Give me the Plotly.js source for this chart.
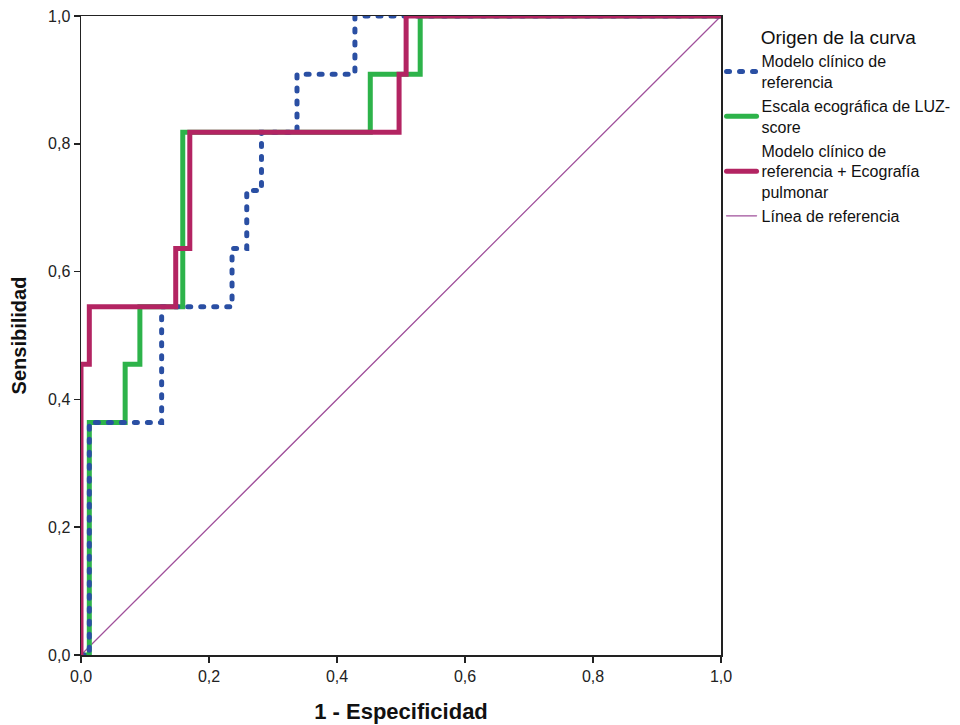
<!DOCTYPE html>
<html>
<head>
<meta charset="utf-8">
<script src="https://cdn.plot.ly/plotly-3.0.1.min.js"></script>
<style>
html,body{margin:0;padding:0;background:#fff;}
#chart{width:960px;height:725px;}
.js-line{stroke-linecap:round;}
</style>
</head>
<body>
<div id="chart"></div>
<script>
// Curve names (legend)
const seriesNames = [
  "Modelo clínico de<br>referencia",
  "Escala ecográfica de LUZ-<br>score",
  "Modelo clínico de<br>referencia + Ecografía<br>pulmonar",
  "Línea de referencia"
];

// Modelo clínico de referencia (1 - especificidad, sensibilidad)
const modeloX = [0, 0.013, 0.013, 0.126, 0.126, 0.236, 0.236, 0.259, 0.259, 0.282, 0.282, 0.3375, 0.3375, 0.428, 0.428, 1];
const modeloY = [0, 0, 0.364, 0.364, 0.545, 0.545, 0.636, 0.636, 0.727, 0.727, 0.818, 0.818, 0.909, 0.909, 1, 1];

// Escala ecográfica de LUZ-score
const luzX = [0, 0.013, 0.013, 0.069, 0.069, 0.092, 0.092, 0.159, 0.159, 0.452, 0.452, 0.53, 0.53, 1];
const luzY = [0, 0, 0.364, 0.364, 0.455, 0.455, 0.545, 0.545, 0.818, 0.818, 0.909, 0.909, 1, 1];

// Modelo clínico de referencia + Ecografía pulmonar
const combX = [0, 0, 0.013, 0.013, 0.148, 0.148, 0.170, 0.170, 0.497, 0.497, 0.508, 0.508, 1];
const combY = [0, 0.455, 0.455, 0.545, 0.545, 0.636, 0.636, 0.818, 0.818, 0.909, 0.909, 1, 1];

// Línea de referencia
const refX = [0, 1];
const refY = [0, 1];

// Axis ticks
const tickVals = [0, 0.2, 0.4, 0.6, 0.8, 1.0];
const tickText = ["0,0", "0,2", "0,4", "0,6", "0,8", "1,0"];

const FONT = "'Liberation Sans', Arial, sans-serif";

const traces = [
  {x: refX, y: refY, name: seriesNames[3], mode: "lines", legendrank: 4,
   line: {color: "#a0509b", width: 1.3}},
  {x: luzX, y: luzY, name: seriesNames[1], mode: "lines", legendrank: 2,
   line: {color: "#2db34a", width: 5}},
  {x: modeloX, y: modeloY, name: seriesNames[0], mode: "lines", legendrank: 1,
   line: {color: "#2a4fa3", width: 5, dash: "3px,10px"}},
  {x: combX, y: combY, name: seriesNames[2], mode: "lines", legendrank: 3,
   line: {color: "#b32462", width: 5}}
];

const axisCommon = {
  range: [0, 1], tickvals: tickVals, ticktext: tickText,
  showgrid: false, zeroline: false, showline: true, mirror: true,
  linecolor: "#222", linewidth: 1.5, ticks: "outside", ticklen: 6, tickwidth: 1.5, tickcolor: "#222",
  tickfont: {family: FONT, size: 16, color: "#222"}
};

const layout = {
  width: 960, height: 725,
  margin: {l: 81, r: 239, t: 16, b: 70},
  paper_bgcolor: "#fff", plot_bgcolor: "#fff",
  showlegend: true,
  xaxis: Object.assign({}, axisCommon, {
    title: {text: "1 - Especificidad", font: {family: FONT, size: 22, color: "#111", weight: "bold"}, standoff: 20}
  }),
  yaxis: Object.assign({}, axisCommon, {
    title: {text: "Sensibilidad", font: {family: FONT, size: 20, color: "#111", weight: "bold"}, standoff: 16}
  }),
  legend: {
    xref: "container", yref: "container",
    x: 0.7516, xanchor: "left", y: 0.973, yanchor: "top",
    bgcolor: "rgba(0,0,0,0)", borderwidth: 0,
    font: {family: FONT, size: 16, color: "#111"},
    title: {text: "Origen de la curva", side: "top center", font: {family: FONT, size: 19, color: "#111"}},
    tracegroupgap: 0, itemwidth: 30
  }
};

Plotly.newPlot("chart", traces, layout, {displayModeBar: false, staticPlot: true});
</script>
</body>
</html>
